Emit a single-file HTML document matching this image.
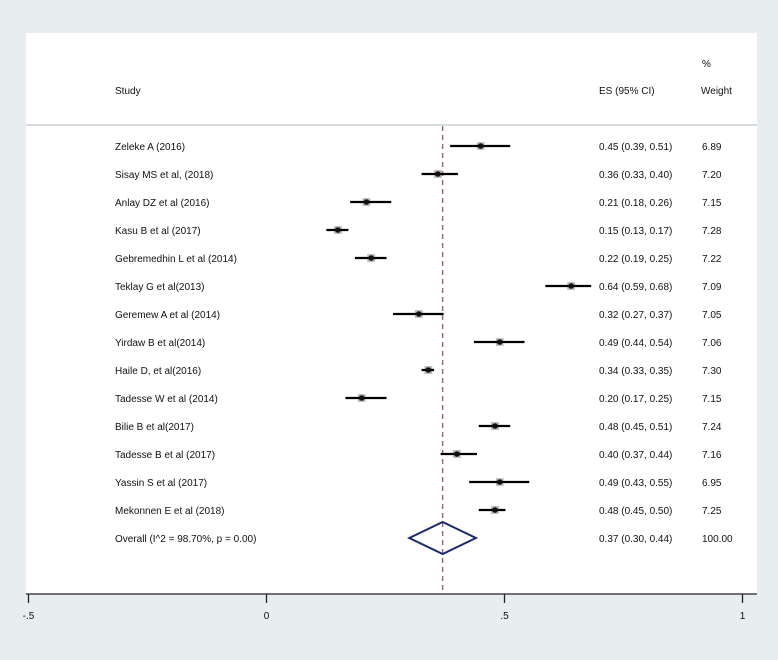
<!DOCTYPE html>
<html><head><meta charset="utf-8"><style>
body{margin:0;background:#e8eef0;}
svg{display:block;font-family:"Liberation Sans",sans-serif;}
</style></head><body>
<svg width="778" height="660" viewBox="0 0 778 660">
<rect x="0" y="0" width="778" height="660" fill="#e8eef0"/>
<rect x="26" y="33" width="731" height="561" fill="#ffffff"/>
<line x1="26" y1="125" x2="757" y2="125" stroke="#c8d0d4" stroke-width="1.5"/>
<g font-size="10" fill="#111">
<text x="115" y="94">Study</text>
<text x="599" y="94">ES (95% CI)</text>
<text x="702" y="67">%</text>
<text x="701" y="94">Weight</text>
</g>
<g id="rows"></g>
<g id="axis"></g>
</svg>
<script>
const studies=["Zeleke A (2016)","Sisay MS et al, (2018)","Anlay DZ et al (2016)","Kasu B et al (2017)","Gebremedhin L et al (2014)","Teklay G et al(2013)","Geremew A et al (2014)","Yirdaw B et al(2014)","Haile D, et al(2016)","Tadesse W et al (2014)","Bilie B et al(2017)","Tadesse B et al (2017)","Yassin S et al (2017)","Mekonnen E et al (2018)"];
const es=[0.45,0.36,0.21,0.15,0.22,0.64,0.32,0.49,0.34,0.20,0.48,0.40,0.49,0.48];
const lo=[0.39,0.33,0.18,0.13,0.19,0.59,0.27,0.44,0.33,0.17,0.45,0.37,0.43,0.45];
const hi=[0.51,0.40,0.26,0.17,0.25,0.68,0.37,0.54,0.35,0.25,0.51,0.44,0.55,0.50];
const weights=["6.89","7.20","7.15","7.28","7.22","7.09","7.05","7.06","7.30","7.15","7.24","7.16","6.95","7.25"];
const overall={es:0.37,lo:0.30,hi:0.44,label:"Overall  (I^2 = 98.70%, p = 0.00)",weight:"100.00"};
const ticks=[-0.5,0,0.5,1];
const tickLabels=["-.5","0",".5","1"];
const NS="http://www.w3.org/2000/svg";
const x=v=>266.5+v*476;
const rowY=i=>146+i*28;
const f2=v=>v.toFixed(2);
function mk(tag,attrs,parent){const e=document.createElementNS(NS,tag);for(const k in attrs)e.setAttribute(k,attrs[k]);parent.appendChild(e);return e;}
const rows=document.getElementById('rows');
const ref=mk('line',{x1:x(overall.es),x2:x(overall.es),y1:126,y2:594,stroke:'#a0606a','stroke-width':1.4,'stroke-dasharray':'5,4'},rows);


studies.forEach((s,i)=>{
  const y=rowY(i);
  const g=mk('g',{},rows);
  
  
  const t=mk('text',{x:115,y:y+4,'font-size':10,fill:'#111'},g);t.textContent=s;
  
  
  const sz=Math.sqrt(parseFloat(weights[i]))*2.9;
  const b=mk('rect',{x:x(es[i])-sz/2,y:y-sz/2,width:sz,height:sz,fill:'#b8b8b8'},g);
  
  
  const l=mk('line',{x1:x(lo[i])-2,x2:x(hi[i])+1,y1:y,y2:y,stroke:'#000','stroke-width':2.3},g);
  
  
  const d=mk('circle',{cx:x(es[i]),cy:y,r:2.8,fill:'#111'},g);
  
  
  const e=mk('text',{x:599,y:y+4,'font-size':10,fill:'#111'},g);e.textContent=`${f2(es[i])} (${f2(lo[i])}, ${f2(hi[i])})`;
  
  
  const w=mk('text',{x:702,y:y+4,'font-size':10,fill:'#111'},g);w.textContent=weights[i];
  
  
});
{
  const y=rowY(studies.length);
  const t=mk('text',{x:115,y:y+4,'font-size':10,fill:'#111'},rows);t.textContent=overall.label;
  
  
  const dm=mk('polygon',{points:`${x(overall.lo)},${y} ${x(overall.es)},${y-16} ${x(overall.hi)},${y} ${x(overall.es)},${y+16}`,fill:'none',stroke:'#1a2a6e','stroke-width':2},rows);
  
  
  const e=mk('text',{x:599,y:y+4,'font-size':10,fill:'#111'},rows);e.textContent=`${f2(overall.es)} (${f2(overall.lo)}, ${f2(overall.hi)})`;
  
  
  const w=mk('text',{x:702,y:y+4,'font-size':10,fill:'#111'},rows);w.textContent=overall.weight;
  
  
}
const axis=document.getElementById('axis');


const al=mk('line',{x1:26,x2:757,y1:594,y2:594,stroke:'#222','stroke-width':1.3},axis);


ticks.forEach((v,i)=>{
  const tk=mk('line',{x1:x(v),x2:x(v),y1:594,y2:603,stroke:'#222','stroke-width':1.3},axis);
  
  
  const tl=mk('text',{x:x(v),y:619,'font-size':10,fill:'#111','text-anchor':'middle'},axis);tl.textContent=tickLabels[i];
  
  
});
</script>
</body></html>
